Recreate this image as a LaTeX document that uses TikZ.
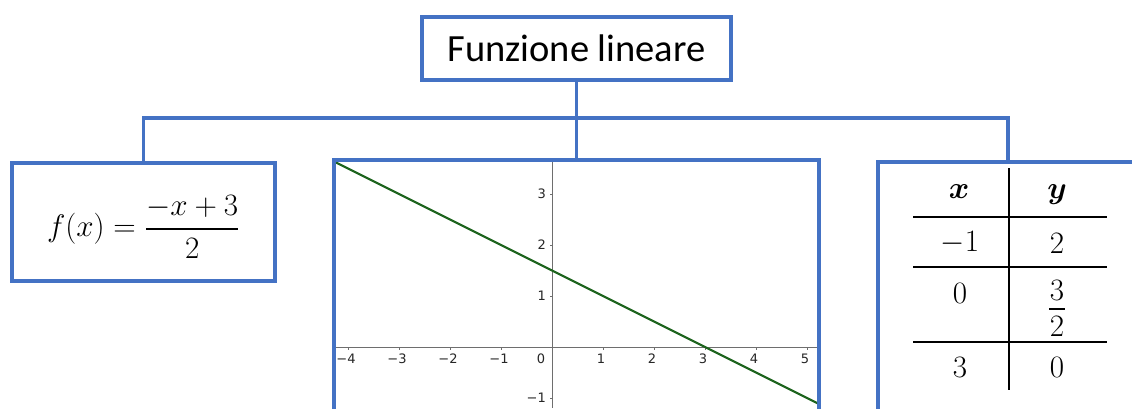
\documentclass[tikz,border=0pt]{standalone}
\usepackage{amsmath,bm}
\usepackage{fontspec}
\newfontfamily\calib{Carlito}
\newfontfamily\geo{DejaVu Sans}
\definecolor{boxblue}{RGB}{68,114,196}
\definecolor{linegreen}{RGB}{30,100,30}
\definecolor{axgray}{RGB}{110,110,110}
\tikzset{
  bluebox/.style={draw=boxblue, line width=3.5pt, fill=white, rectangle, inner sep=0pt},
  conn/.style={draw=boxblue, line width=3.5pt},
  ticklab/.style={font=\geo\fontsize{13}{14}\selectfont, text=black!85, inner sep=1pt},
  mathtxt/.style={font=\fontsize{20}{22}\selectfont, inner sep=0pt, scale=1.5, transform shape},
  tabline/.style={draw=black, line width=1.6pt}
}
\begin{document}
\begin{tikzpicture}[x=1pt,y=-1pt]
\clip (0,0) rectangle (1132,408);
\fill[white] (0,0) rectangle (1132,408);
% boxes
\node[bluebox, minimum width=309pt, minimum height=63pt, font=\calib\fontsize{38.5}{40}\selectfont] (top) at (576.5,48.5) {Funzione lineare};
\node[bluebox, minimum width=263pt, minimum height=118pt] (left) at (143.5,222) {};
\node[mathtxt] (formula) at ([yshift=-5pt]left.center) {$f(x)=\dfrac{-x+3}{2}$};
\node[bluebox, minimum width=485pt, minimum height=270pt] (graph) at (576.5,295) {};
\node[bluebox, minimum width=260pt, minimum height=270pt] (table) at (1008,297) {};
% connectors
\coordinate (j) at (576,118);
\draw[conn] (top.south) -- (graph.north);
\draw[conn] (left.north) -- (left.north |- j) -- (table.north |- j) -- (table.north);
% graph
\begin{scope}
\clip (336,162) rectangle (817,408);
\draw[axgray, line width=0.8pt] (336,347) -- (817,347);
\draw[axgray, line width=0.8pt] (552,162) -- (552,408);
\foreach \i in {-4,...,5}{
  \draw[axgray, line width=0.6pt] ({552+51*\i},347) -- ({552+51*\i},349.5);
}
\foreach \i in {-1,1,2,3}{
  \draw[axgray, line width=0.6pt] (552,{347-51*\i}) -- (549.5,{347-51*\i});
}
\draw[linegreen, line width=2.2pt] ({552-4.3*51},{347-3.65*51}) -- ({552+5.3*51},{347+1.15*51});
\end{scope}
\foreach \i/\t in {-4/−4,-3/−3,-2/−2,-1/−1,1/1,2/2,3/3,4/4,5/5}{
  \node[ticklab] (xl\i) at ({552+51*\i-2},359) {\t};
}
\node[ticklab] (xl0) at (541,359) {0};
\foreach \i/\t in {1/1,2/2,3/3,-1/−1}{
  \node[ticklab, anchor=east] (yl\i) at (547,{347-51*\i}) {\t};
}
% table
\draw[tabline] (1009,168) -- (1009,390);
\foreach \yy in {217,267,342}{
  \draw[tabline] (913,\yy) -- (1107,\yy);
}
\node[mathtxt] (hx) at (959,192) {$\bm{x}$};
\node[mathtxt] (hy) at (1057,195) {$\bm{y}$};
\node[mathtxt] (a1) at (960,243) {$-1$};
\node[mathtxt] (b1) at (1057,243) {$2$};
\node[mathtxt] (a2) at (960,293) {$0$};
\node[mathtxt] (b2t) at (1057,290) {$3$};
\draw[black, line width=1.3pt] (1049,309) -- (1065,309);
\node[mathtxt] (b2b) at (1057,326) {$2$};
\node[mathtxt] (a3) at (960,367) {$3$};
\node[mathtxt] (b3) at (1057,367) {$0$};
\end{tikzpicture}
\end{document}
